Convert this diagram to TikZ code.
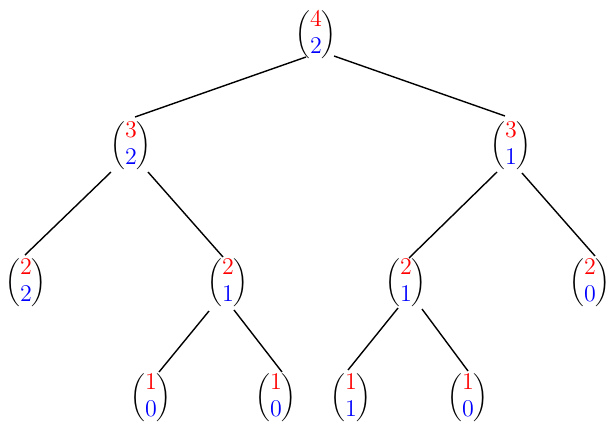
\documentclass[tikz,border=0pt]{standalone}
\usepackage{amsmath}
\usepackage{xcolor}
\newcommand{\bn}[2]{$\displaystyle\binom{\textcolor{red}{\text{\large$#1$}}}{\textcolor{blue}{\text{\large$#2$}}}$}
\begin{document}
\begin{tikzpicture}[x=0.5pt,y=-0.5pt,
  bnode/.style={inner sep=0pt},
  edge/.style={draw=black,line width=0.7pt}]
\useasboundingbox (0,0) rectangle (608,424);
\node[bnode] (r) at (316,35) {\bn{4}{2}};
\node[bnode] (a) at (131,146) {\bn{3}{2}};
\node[bnode] (b) at (511,146) {\bn{3}{1}};
\node[bnode] (c) at (26,283) {\bn{2}{2}};
\node[bnode] (d) at (228,283) {\bn{2}{1}};
\node[bnode] (e) at (406,283) {\bn{2}{1}};
\node[bnode] (f) at (590,283) {\bn{2}{0}};
\node[bnode] (g) at (151,398) {\bn{1}{0}};
\node[bnode] (h) at (276,398) {\bn{1}{0}};
\node[bnode] (i) at (351,398) {\bn{1}{1}};
\node[bnode] (j) at (468,398) {\bn{1}{0}};
\draw[edge] ([shift={(-10,22)}]r.center) -- ([shift={(4,-29)}]a.center);
\draw[edge] ([shift={(18,21)}]r.center) -- ([shift={(-6,-30)}]b.center);
\draw[edge] ([shift={(-20,26)}]a.center) -- ([shift={(-1,-28)}]c.center);
\draw[edge] ([shift={(17,26)}]a.center) -- ([shift={(-5,-26)}]d.center);
\draw[edge] ([shift={(-14,26)}]b.center) -- ([shift={(3,-25)}]e.center);
\draw[edge] ([shift={(11,27)}]b.center) -- ([shift={(5,-27)}]f.center);
\draw[edge] ([shift={(-19,28)}]d.center) -- ([shift={(8,-26)}]g.center);
\draw[edge] ([shift={(6,27)}]d.center) -- ([shift={(6,-26)}]h.center);
\draw[edge] ([shift={(-8,25)}]e.center) -- ([shift={(-3,-28)}]i.center);
\draw[edge] ([shift={(16,26)}]e.center) -- ([shift={(0,-27)}]j.center);
\end{tikzpicture}
\end{document}
